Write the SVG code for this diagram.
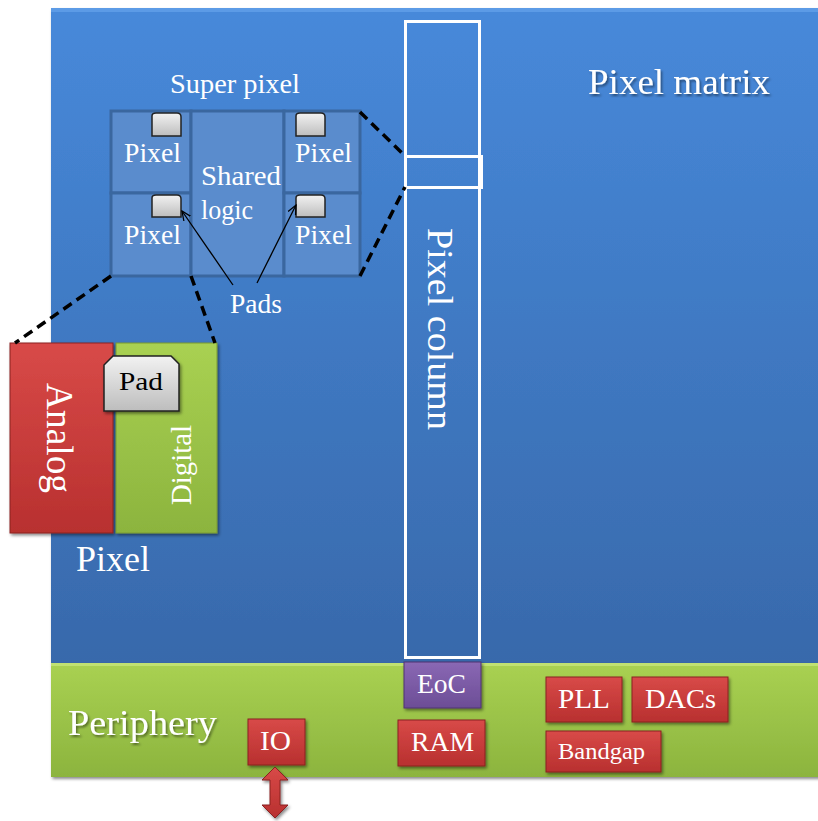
<svg xmlns="http://www.w3.org/2000/svg" width="818" height="821" viewBox="0 0 818 821">
<defs>
<linearGradient id="gBlue" x1="0" y1="0" x2="0" y2="1"><stop offset="0" stop-color="#4789da"/><stop offset="1" stop-color="#3869ab"/></linearGradient>
<linearGradient id="gGreen" x1="0" y1="0" x2="0" y2="1"><stop offset="0" stop-color="#a9d152"/><stop offset="1" stop-color="#8cb43e"/></linearGradient>
<linearGradient id="gRed" x1="0" y1="0" x2="0" y2="1"><stop offset="0" stop-color="#d84a48"/><stop offset="1" stop-color="#b8302f"/></linearGradient>
<linearGradient id="gPurple" x1="0" y1="0" x2="0" y2="1"><stop offset="0" stop-color="#8a68b4"/><stop offset="1" stop-color="#6c4d96"/></linearGradient>
<linearGradient id="gPad" x1="0" y1="0" x2="0" y2="1"><stop offset="0" stop-color="#f2f2f2"/><stop offset="1" stop-color="#bdbdbd"/></linearGradient>
<filter id="sh" x="-10%" y="-10%" width="130%" height="130%"><feDropShadow dx="1.5" dy="2" stdDeviation="1.5" flood-color="#000" flood-opacity="0.45"/></filter>
<filter id="tsh" x="-10%" y="-20%" width="130%" height="160%"><feDropShadow dx="1.5" dy="2" stdDeviation="1.2" flood-color="#000" flood-opacity="0.45"/></filter>
<marker id="ah" viewBox="0 0 10 10" refX="9" refY="5" markerWidth="8" markerHeight="8" orient="auto"><path d="M0,1 L9,5 L0,9" fill="none" stroke="#000" stroke-width="1.2"/></marker>
</defs>
<style>
text{font-family:"Liberation Serif","Times New Roman",serif;}
.w{fill:#fff;}
.k{fill:#000;}
.cell{fill:#5a8ccd;stroke:#3a679f;stroke-width:3;}
.pad{fill:url(#gPad);stroke:#222;stroke-width:1.5;}
.dash{fill:none;stroke:#000;stroke-width:3.5;stroke-dasharray:10,6;}
.red{fill:url(#gRed);stroke:#8a2220;stroke-width:1;filter:url(#sh);}
.col{fill:none;stroke:#fff;stroke-width:3;}
</style>
<g id="matrix">
<rect x="51" y="8" width="770" height="656" fill="url(#gBlue)" filter="url(#sh)"/>
<rect x="51" y="8" width="770" height="4" fill="#6aa6ee" opacity="0.6"/>
<text x="588" y="94" font-size="35" class="w" filter="url(#tsh)" textLength="182" lengthAdjust="spacingAndGlyphs">Pixel matrix</text>
</g>
<g id="periphery">
<rect x="51" y="663" width="770" height="114" fill="url(#gGreen)" filter="url(#sh)"/>
<rect x="51" y="663" width="770" height="3" fill="#c6e57a" opacity="0.8"/>
<text x="68" y="735" font-size="36" class="w" filter="url(#tsh)" textLength="149" lengthAdjust="spacingAndGlyphs">Periphery</text>
</g>
<g id="pixel-column">
<rect x="405.5" y="21.5" width="74" height="636" class="col"/>
<rect x="405.5" y="156.5" width="76" height="31" class="col"/>
<text transform="translate(428,228) rotate(90)" font-size="36" class="w" textLength="202" lengthAdjust="spacingAndGlyphs">Pixel column</text>
</g>
<g id="super-pixel">
<text x="170" y="93" font-size="27" class="w" textLength="130" lengthAdjust="spacingAndGlyphs">Super pixel</text>
<rect x="111" y="111" width="80" height="82" class="cell"/>
<rect x="111" y="193" width="80" height="83" class="cell"/>
<rect x="191" y="111" width="93" height="165" class="cell"/>
<rect x="284" y="111" width="76" height="82" class="cell"/>
<rect x="284" y="193" width="76" height="83" class="cell"/>
<path class="pad" d="M152,136 V116 Q152,113 156,113 H177 Q181,113 181,117 V136 Z"/>
<path class="pad" d="M152,217 V198 Q152,195 156,195 H177 Q181,195 181,199 V217 Z"/>
<path class="pad" d="M296,136 V116 Q296,113 300,113 H321 Q325,113 325,117 V136 Z"/>
<path class="pad" d="M296,217 V198 Q296,195 300,195 H321 Q325,195 325,199 V217 Z"/>
<text x="124" y="162" font-size="27" class="w" textLength="57" lengthAdjust="spacingAndGlyphs">Pixel</text>
<text x="124" y="244" font-size="27" class="w" textLength="57" lengthAdjust="spacingAndGlyphs">Pixel</text>
<text x="295" y="162" font-size="27" class="w" textLength="57" lengthAdjust="spacingAndGlyphs">Pixel</text>
<text x="295" y="244" font-size="27" class="w" textLength="57" lengthAdjust="spacingAndGlyphs">Pixel</text>
<text x="201" y="185" font-size="27" class="w" textLength="80" lengthAdjust="spacingAndGlyphs">Shared</text>
<text x="201" y="219" font-size="27" class="w" textLength="52" lengthAdjust="spacingAndGlyphs">logic</text>
<text x="230" y="313" font-size="27" class="w" textLength="52" lengthAdjust="spacingAndGlyphs">Pads</text>
</g>
<g id="pixel">
<rect x="10" y="343" width="103" height="190" class="red"/>
<rect x="116" y="343" width="101" height="190" fill="url(#gGreen)" stroke="#7a9a30" stroke-width="1" filter="url(#sh)"/>
<path d="M104,411 V365 L113,356 H171 L179,364 V411 Z" class="pad" filter="url(#sh)"/>
<text x="119" y="390" font-size="26" class="k" textLength="44" lengthAdjust="spacingAndGlyphs">Pad</text>
<text transform="translate(47,383) rotate(90)" font-size="38" class="w" textLength="110" lengthAdjust="spacingAndGlyphs">Analog</text>
<text transform="translate(191,505) rotate(-90)" font-size="29" class="w" textLength="80" lengthAdjust="spacingAndGlyphs">Digital</text>
<text x="76" y="571" font-size="35" class="w" textLength="74" lengthAdjust="spacingAndGlyphs">Pixel</text>
</g>
<g id="eoc">
<rect x="404" y="662" width="77" height="46" fill="url(#gPurple)" stroke="#4f3572" stroke-width="1" filter="url(#sh)"/>
<text x="417" y="693" font-size="27" class="w" textLength="49" lengthAdjust="spacingAndGlyphs">EoC</text>
</g>
<g id="ram">
<rect x="398" y="720" width="87" height="46" class="red"/>
<text x="411" y="751" font-size="27" class="w" textLength="63" lengthAdjust="spacingAndGlyphs">RAM</text>
</g>
<g id="io">
<rect x="248" y="719" width="57" height="46" class="red"/>
<text x="260" y="750" font-size="27" class="w" textLength="31" lengthAdjust="spacingAndGlyphs">IO</text>
</g>
<g id="pll">
<rect x="546" y="677" width="76" height="45" class="red"/>
<text x="558" y="708" font-size="27" class="w" textLength="52" lengthAdjust="spacingAndGlyphs">PLL</text>
</g>
<g id="dacs">
<rect x="632" y="677" width="96" height="45" class="red"/>
<text x="645" y="708" font-size="27" class="w" textLength="71" lengthAdjust="spacingAndGlyphs">DACs</text>
</g>
<g id="bandgap">
<rect x="546" y="731" width="115" height="41" class="red"/>
<text x="558" y="759" font-size="24" class="w" textLength="87" lengthAdjust="spacingAndGlyphs">Bandgap</text>
</g>
<g id="connectors">
<path class="dash" d="M360,112 L405,156"/>
<path class="dash" d="M360,276 L405,187"/>
<path class="dash" d="M111,276 L15,343"/>
<path class="dash" d="M191,276 L215,343"/>
<path d="M233,285 L182,211" fill="none" stroke="#000" stroke-width="1.3" marker-end="url(#ah)"/>
<path d="M257,283 L296,205" fill="none" stroke="#000" stroke-width="1.3" marker-end="url(#ah)"/>
<path d="M275,767 L288,780 H280 V805 H288 L275,818 L262,805 H270 V780 H262 Z" fill="url(#gRed)" stroke="#8a2220" stroke-width="1" filter="url(#sh)"/>
</g>
</svg>
